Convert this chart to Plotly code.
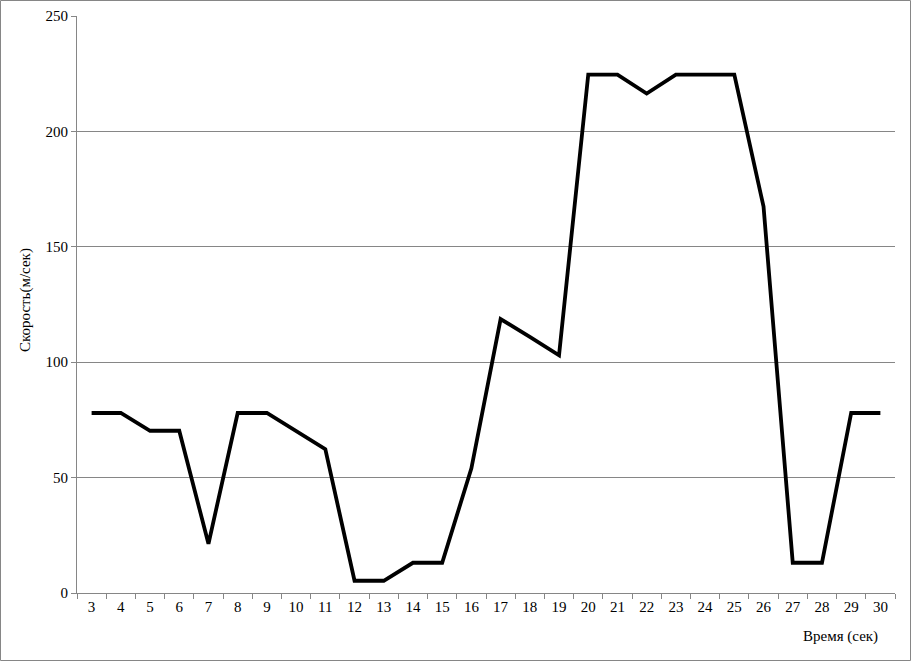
import plotly.graph_objects as go

seconds = [str(s) for s in range(3, 31)]
speed = [78, 78, 70.3, 70.3, 21.3, 78, 78, 70.3, 62.3, 5.3, 5.3, 13.1, 13.1, 54,
         118.7, 111, 103, 224.6, 224.6, 216.4, 224.6, 224.6, 224.6, 167.4, 13.1, 13.1, 78, 78]
y_ticks = [0, 50, 100, 150, 200, 250]

W, H = 911, 661
L, R, T, B = 77, 16, 16, 68
pw, ph = W - L - R, H - T - B

fig = go.Figure(go.Scatter(x=seconds, y=speed, mode="lines",
                           line=dict(color="black", width=3.8), hoverinfo="skip"))

font = dict(family="Liberation Serif, Times New Roman, serif", size=15, color="black")

fig.update_layout(
    width=W, height=H,
    margin=dict(l=L, r=R, t=T, b=B, autoexpand=False),
    paper_bgcolor="white", plot_bgcolor="white",
    showlegend=False,
    font=font,
    xaxis=dict(type="category", range=[-0.5, len(seconds) - 0.5], showgrid=False,
               showline=True, linecolor="#868686", linewidth=1, ticks="outside",
               tickson="boundaries", ticklen=5, tickcolor="#868686", tickfont=font,
               zeroline=False),
    yaxis=dict(range=[0, 250], tickvals=y_ticks, showgrid=True, gridcolor="#868686",
               gridwidth=1, showline=True, linecolor="#868686", linewidth=1,
               ticks="outside", ticklen=5, tickcolor="#868686", tickfont=font,
               zeroline=False),
    annotations=[
        dict(text="Скорость(м/сек)", xref="paper", yref="paper",
             x=(25 - L) / pw, y=(H - B - 300) / ph, textangle=-90, showarrow=False,
             font=font, xanchor="center", yanchor="middle"),
        dict(text="Время (сек)", xref="paper", yref="paper",
             x=(840 - L) / pw, y=-(636 - (T + ph)) / ph, showarrow=False,
             font=font, xanchor="center", yanchor="middle"),
    ],
    shapes=[dict(type="rect", xref="paper", yref="paper",
                 x0=(0.5 - L) / pw, x1=(910.5 - L) / pw,
                 y0=-(660.5 - T - ph) / ph, y1=1 + (T - 0.5) / ph,
                 line=dict(color="#868686", width=1), layer="below")],
)

fig.write_html("out.html", config={"displayModeBar": False},
               post_script="document.body.style.margin='0';document.body.style.overflow='hidden';")
